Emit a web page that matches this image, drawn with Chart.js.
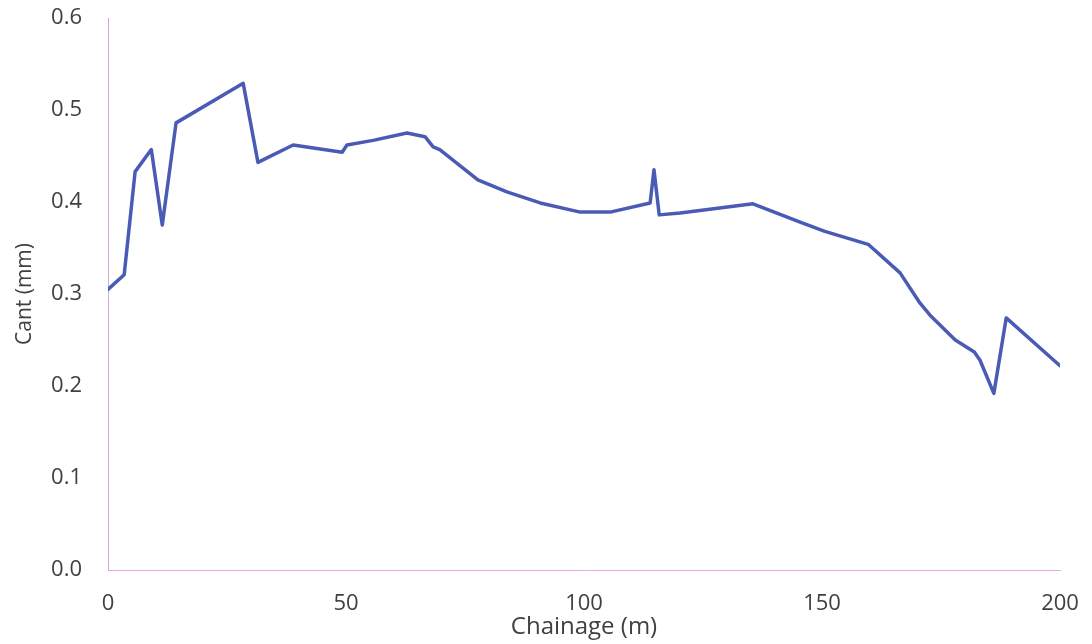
<!DOCTYPE html>
<html>
<head>
<meta charset="utf-8">
<script src="https://cdn.jsdelivr.net/npm/chart.js@4/dist/chart.umd.min.js"></script>
<style>
  html, body { margin: 0; padding: 0; background: #ffffff; }
  #wrap { width: 1092px; height: 644px; }
</style>
</head>
<body>
<div id="wrap"><canvas id="c" width="1092" height="644"></canvas></div>
<script>
// Chainage along the track (m)
const chainage = [0, 3.4, 5.7, 9.1, 11.4, 14.3, 28.4, 31.5, 38.9, 49.2, 50.2, 55.7, 62.8, 66.6, 68.3, 69.7,
  77.7, 83.8, 90.8, 99.2, 105.5, 113.9, 114.7, 115.8, 120.2, 135.5, 145.4, 150.6, 159.7, 166.4, 170.6,
  172.7, 178, 182, 183.2, 186.1, 188.7, 200];
// Measured cant (mm)
const cant = [0.305, 0.321, 0.433, 0.457, 0.375, 0.486, 0.529, 0.443, 0.462, 0.454, 0.462, 0.467, 0.475, 0.471, 0.460, 0.457,
  0.424, 0.411, 0.399, 0.389, 0.389, 0.399, 0.435, 0.386, 0.388, 0.398, 0.378, 0.368, 0.354, 0.323, 0.290,
  0.277, 0.250, 0.237, 0.228, 0.192, 0.274, 0.222];
// Axis ticks
const xTicks = [0, 50, 100, 150, 200];
const yTicks = [0, 0.1, 0.2, 0.3, 0.4, 0.5, 0.6];

const points = chainage.map((x, i) => ({ x: x, y: cant[i] }));
const textColor = '#404040';
const fontFamily = '"Open Sans", Lato, "Liberation Sans", sans-serif';

new Chart(document.getElementById('c'), {
  type: 'scatter',
  data: {
    datasets: [{
      data: points,
      showLine: true,
      borderColor: '#4a5bb6',
      borderWidth: 3.5,
      borderJoinStyle: 'round',
      borderCapStyle: 'round',
      pointRadius: 0,
      tension: 0,
      fill: false
    }]
  },
  options: {
    responsive: false,
    animation: false,
    layout: { padding: { top: 18, right: 32, left: 0, bottom: 0 } },
    plugins: { legend: { display: false }, tooltip: { enabled: false } },
    scales: {
      x: {
        type: 'linear',
        min: xTicks[0],
        max: xTicks[xTicks.length - 1],
        afterBuildTicks: s => { s.ticks = xTicks.map(v => ({ value: v })); },
        afterFit: s => { s.height = 74; s.paddingLeft = 0; s.paddingRight = 0; },
        grid: { display: false, drawTicks: false },
        border: { display: true, color: '#e2a8e2', width: 1 },
        ticks: { color: textColor, font: { family: fontFamily, size: 22 }, padding: 21, maxRotation: 0 },
        title: { display: true, text: 'Chainage (m)', color: textColor,
                 font: { family: fontFamily, size: 24 }, padding: { top: 0, bottom: 2 } }
      },
      y: {
        type: 'linear',
        min: yTicks[0],
        max: yTicks[yTicks.length - 1],
        afterBuildTicks: s => { s.ticks = yTicks.map(v => ({ value: v })); },
        afterFit: s => { s.width = 108; s.paddingTop = 0; s.paddingBottom = 0; },
        grid: { display: false, drawTicks: false },
        border: { display: true, color: '#d4a4d4', width: 1 },
        ticks: { color: textColor, font: { family: fontFamily, size: 22 }, padding: 26,
                 callback: v => Number(v).toFixed(1) },
        title: { display: true, text: 'Cant (mm)', color: textColor,
                 font: { family: fontFamily, size: 21 }, padding: { top: 12, bottom: 0 } }
      }
    }
  }
});
</script>
</body>
</html>
